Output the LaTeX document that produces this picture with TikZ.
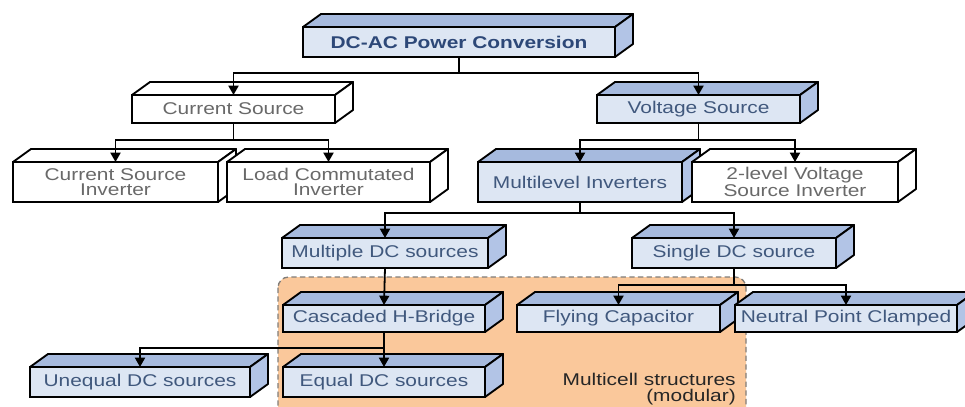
\documentclass[tikz,border=0pt]{standalone}
\usepackage{fontspec}
\setmainfont{Liberation Sans}[FakeStretch=1.23]
\usetikzlibrary{arrows.meta,calc}
\definecolor{frontblue}{RGB}{221,230,243}
\definecolor{topblue}{RGB}{166,186,222}
\definecolor{sideblue}{RGB}{178,196,230}
\definecolor{txtblue}{RGB}{64,88,125}
\definecolor{titleblue}{RGB}{45,72,120}
\definecolor{txtgray}{RGB}{105,105,105}
\definecolor{peach}{RGB}{250,200,155}
\definecolor{dashgray}{RGB}{130,125,120}
\tikzset{
  cubebase/.style={draw=black, line width=1.4pt, inner sep=0pt, outer sep=0pt, align=center,
    font=\fontsize{12.75}{11.5}\selectfont},
  bluecube/.style={cubebase, fill=frontblue, text=txtblue},
  whitecube/.style={cubebase, fill=white, text=txtgray},
  bluetop/.style={draw=black, line width=1.4pt, fill=topblue, line join=round},
  blueside/.style={draw=black, line width=1.4pt, fill=sideblue, line join=round},
  whitetop/.style={draw=black, line width=1.4pt, fill=white, line join=round},
  whiteside/.style={draw=black, line width=1.4pt, fill=white, line join=round},
  conn/.style={line width=1.35pt, -{Triangle[length=7pt,width=7.5pt]}},
  region/.style={draw=dashgray, fill=peach, dashed, dash pattern=on 4pt off 2.5pt, line width=1pt, rounded corners=8pt},
  notelabel/.style={anchor=east, align=right, inner sep=0pt, text=black!85,
    font=\fontsize{12.75}{12.5}\selectfont}
}
% #1 colour kind, #2 name, #3 x1, #4 y1, #5 x2, #6 y2, #7 text (pixel coordinates)
\newcommand\cubenode[7]{%
  \node[#1cube, minimum width={(#5-#3)*0.75pt}, minimum height={(#6-#4)*0.75pt}]
    (#2) at ({(#3+#5)/2},{(#4+#6)/2}) {#7};
  \filldraw[#1top] (#2.north west) -- ([shift={(13.5pt,9.75pt)}]#2.north west)
    -- ([shift={(13.5pt,9.75pt)}]#2.north east) -- (#2.north east) -- cycle;
  \filldraw[#1side] (#2.north east) -- ([shift={(13.5pt,9.75pt)}]#2.north east)
    -- ([shift={(13.5pt,9.75pt)}]#2.south east) -- (#2.south east) -- cycle;
}
\begin{document}
\begin{tikzpicture}[x=0.75pt,y=-0.75pt]
\useasboundingbox (0,0) rectangle (965,407);
\fill[white] (0,0) rectangle (965,407);
% multicell region
\draw[region] (278,277) rectangle (746,420);
\node[notelabel] (mc) at (736,389) {Multicell structures\\(modular)};
% boxes
\cubenode{blue}{dcac}{303}{27}{615}{57}{\bfseries\color{titleblue}DC-AC Power Conversion}
\cubenode{white}{cs}{132}{95}{335}{123}{Current Source}
\cubenode{blue}{vs}{597}{95}{800}{123}{Voltage Source}
\cubenode{white}{csi}{13}{162}{218}{202}{Current Source\\Inverter}
\cubenode{white}{lci}{227}{162}{430}{202}{Load Commutated\\Inverter}
\cubenode{blue}{ml}{478}{162}{682}{202}{Multilevel Inverters}
\cubenode{white}{tl}{692}{162}{898}{202}{2-level Voltage\\Source Inverter}
\cubenode{blue}{mdc}{282}{238}{488}{268}{Multiple DC sources}
\cubenode{blue}{sdc}{632}{238}{836}{268}{Single DC source}
\cubenode{blue}{chb}{283}{305}{485}{332}{Cascaded H-Bridge}
\cubenode{blue}{fc}{517}{305}{720}{332}{Flying Capacitor}
\cubenode{blue}{npc}{735}{305}{957}{332}{Neutral Point Clamped}
\cubenode{blue}{ueq}{30}{367}{250}{397}{Unequal DC sources}
\cubenode{blue}{eq}{283}{367}{485}{397}{Equal DC sources}
% connectors
\draw[conn] (dcac.south) -- ++(0,16) -| (cs.north);
\draw[conn] (dcac.south) -- ++(0,16) -| (vs.north);
\draw[conn] (cs.south) -- ++(0,17) -| (csi.north);
\draw[conn] (cs.south) -- ++(0,17) -| (lci.north);
\draw[conn] (vs.south) -- ++(0,17) -| (ml.north);
\draw[conn] (vs.south) -- ++(0,17) -| (tl.north);
\draw[conn] (ml.south) -- ++(0,11) -| (mdc.north);
\draw[conn] (ml.south) -- ++(0,11) -| (sdc.north);
\draw[conn] (mdc.south) -- (chb.north);
\draw[conn] (sdc.south) -- ++(0,17) -| (fc.north);
\draw[conn] (sdc.south) -- ++(0,17) -| (npc.north);
\draw[conn] (chb.south) -- ++(0,16) -| (ueq.north);
\draw[conn] (chb.south) -- (eq.north);
\end{tikzpicture}
\end{document}
